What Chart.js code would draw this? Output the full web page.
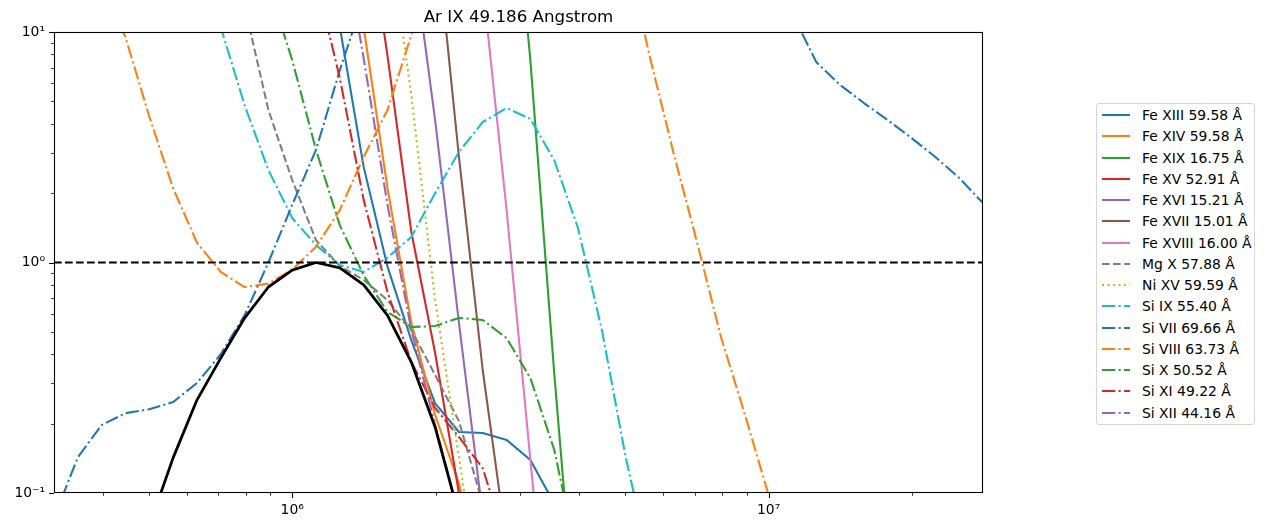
<!DOCTYPE html>
<html>
<head>
<meta charset="utf-8">
<script src="https://cdn.jsdelivr.net/npm/chart.js"></script>
<style>
  body { margin: 0; background: #fff; }
  #wrap { position: relative; width: 1264px; height: 532px; }
  #legend {
    position: absolute; left: 1096px; top: 103px; width: 157px; height: 319px;
    border: 1px solid #d6d6d6; border-radius: 3px; background: #fff;
    font-family: "DejaVu Sans", sans-serif; font-size: 13.9px; color: #000;
    padding-top: 0.5px; box-sizing: content-box;
  }
  .row { height: 21.26px; display: flex; align-items: center; white-space: nowrap; }
  .row svg { margin-left: 5px; margin-right: 12px; flex: none; }
</style>
</head>
<body>
<div id="wrap">
  <canvas id="graphe" width="1264" height="532"></canvas>
  <div id="legend"></div>
</div>
<script>
// temperature grid, log10(T)
var logT = [5.50, 5.55, 5.60, 5.65, 5.70, 5.75, 5.80, 5.85, 5.90, 5.95,
            6.00, 6.05, 6.10, 6.15, 6.20, 6.25, 6.30, 6.35, 6.40, 6.45,
            6.50, 6.55, 6.60, 6.65, 6.70, 6.75, 6.80, 6.85, 6.90, 6.95,
            7.00, 7.05, 7.10, 7.15, 7.20, 7.25, 7.30, 7.35, 7.40, 7.45];
var _ = null;

// ratios (null = not plotted / far off the axes)
var feXIII = [_,_,_,_,_,_,_,_,_,_,
              _, 30, 10.5, 2.6, 0.96, 0.46, 0.245, 0.184, 0.182, 0.17,
              0.139, 0.09, _,_,_,_,_,_,_,_,
              _,_,_,_,_,_,_,_,_,_];
var feXIV  = [_,_,_,_,_,_,_,_,_,_,
              _, _, 40, 10.5, 2.1, 0.55, 0.218, 0.11, 0.04, _,
              _,_,_,_,_,_,_,_,_,_,
              _,_,_,_,_,_,_,_,_,_];
var feXIX  = [_,_,_,_,_,_,_,_,_,_,
              _,_,_,_,_,_,_,_,_, 100,
              7.5, 0.331, 0.019, _,_,_,_,_,_,_,
              _,_,_,_,_,_,_,_,_,_];
var feXV   = [_,_,_,_,_,_,_,_,_,_,
              _, _, _, 40, 7.9, 1.36, 0.405, 0.1, 0.02, _,
              _,_,_,_,_,_,_,_,_,_,
              _,_,_,_,_,_,_,_,_,_];
var feXVI  = [_,_,_,_,_,_,_,_,_,_,
              _, _, _, _, _, 25, 4.15, 0.547, 0.08, _,
              _,_,_,_,_,_,_,_,_,_,
              _,_,_,_,_,_,_,_,_,_];
var feXVII = [_,_,_,_,_,_,_,_,_,_,
              _, _, _, _, _, _, 30, 2.87, 0.34, 0.06,
              _,_,_,_,_,_,_,_,_,_,
              _,_,_,_,_,_,_,_,_,_];
var feXVIII = [_,_,_,_,_,_,_,_,_,_,
              _,_,_,_,_,_,_,_, 16, 1.69,
              0.139, 0.012, _,_,_,_,_,_,_,_,
              _,_,_,_,_,_,_,_,_,_];
var mgX    = [_,_,_,_,_,_,_,_, 13, 4.59,
              2.28, 1.25, 0.966, 0.84, 0.687, 0.51, 0.325, 0.205, 0.09, _,
              _,_,_,_,_,_,_,_,_,_,
              _,_,_,_,_,_,_,_,_,_];
var niXV   = [_,_,_,_,_,_,_,_,_,_,
              _, _, _, _, 30, 5.33, 0.687, 0.143, 0.03, _,
              _,_,_,_,_,_,_,_,_,_,
              _,_,_,_,_,_,_,_,_,_];
var siIX   = [_,_,_,_,_,_, 25, 10.5, 4.82, 2.52,
              1.56, 1.19, 0.975, 0.91, 1.05, 1.29, 2.0, 3.02, 4.07, 4.68,
              4.2, 2.78, 1.41, 0.51, 0.143, 0.05, _,_,_,_,
              _,_,_,_,_,_,_,_,_,_];
var siVII  = [0.078, 0.143, 0.197, 0.222, 0.231, 0.248, 0.30, 0.40, 0.59, 1.0,
              1.78, 3.08, 6.84, 14, _,_,_,_,_,_,
              _,_,_,_,_,_,_,_,_,_,
              _, 12, 7.41, 5.89, 4.92, 4.15, 3.47, 2.87, 2.33, 1.81];
var siVIII = [_, _, 16, 9.5, 4.3, 2.1, 1.22, 0.91, 0.783, 0.81,
              0.93, 1.17, 1.69, 2.87, 4.59, 9.7, 20, _,_,_,
              _,_,_,_, 23, 7.9, 3.01, 1.22, 0.475, 0.22,
              0.098, 0.045, _,_,_,_,_,_,_,_];
var siX    = [_,_,_,_,_,_,_,_,_, 16,
              7.56, 3.08, 1.45, 0.88, 0.61, 0.525, 0.53, 0.575, 0.563, 0.47,
              0.315, 0.154, 0.05, _,_,_,_,_,_,_,
              _,_,_,_,_,_,_,_,_,_];
var siXI   = [_,_,_,_,_,_,_,_,_,_,
              _, 17, 6.3, 1.87, 0.745, 0.37, 0.234, 0.175, 0.128, 0.06,
              _,_,_,_,_,_,_,_,_,_,
              _,_,_,_,_,_,_,_,_,_];
var siXII  = [_,_,_,_,_,_,_,_,_,_,
              _, _, 30, 7.7, 1.78, 0.51, 0.197, 0.08, _, _,
              _,_,_,_,_,_,_,_,_,_,
              _,_,_,_,_,_,_,_,_,_];
// Ar IX itself (black, no legend entry)
var arIX   = [_,_,_,_, 0.072, 0.142, 0.253, 0.385, 0.574, 0.783,
              0.927, 1.0, 0.947, 0.80, 0.59, 0.37, 0.193, 0.08, _, _,
              _,_,_,_,_,_,_,_,_,_,
              _,_,_,_,_,_,_,_,_,_];
var unity = [1, 1];

var labels = ['Fe XIII 59.58 Å', 'Fe XIV 59.58 Å', 'Fe XIX 16.75 Å', 'Fe XV 52.91 Å',
              'Fe XVI 15.21 Å', 'Fe XVII 15.01 Å', 'Fe XVIII 16.00 Å', 'Mg X 57.88 Å',
              'Ni XV 59.59 Å', 'Si IX 55.40 Å', 'Si VII 69.66 Å', 'Si VIII 63.73 Å',
              'Si X 50.52 Å', 'Si XI 49.22 Å', 'Si XII 44.16 Å'];
var series = [feXIII, feXIV, feXIX, feXV, feXVI, feXVII, feXVIII, mgX,
              niXV, siIX, siVII, siVIII, siX, siXI, siXII];
var colors = ['#1f77b4', '#ff7f0e', '#2ca02c', '#d62728', '#9467bd', '#8c564b', '#e377c2',
              '#7f7f7f', '#bcbd22', '#17becf', '#1f77b4', '#ff7f0e', '#2ca02c', '#d62728', '#9467bd'];
var styles = ['-', '-', '-', '-', '-', '-', '-', '--', ':', '-.', '-.', '-.', '-.', '-.', '-.'];

var dashes = { '-': [], '--': [7.7, 3.3], ':': [2.1, 3.4], '-.': [13.3, 3.3, 2.1, 3.3] };
var LW = 2.08;

function toPoints(vals) {
    return logT.map(function(lt, i) { return { x: Math.pow(10, lt), y: vals[i] }; });
}

var sup = { '0': '⁰', '1': '¹', '2': '²', '3': '³', '4': '⁴', '5': '⁵', '6': '⁶', '7': '⁷', '8': '⁸', '9': '⁹', '-': '⁻' };
function powLabel(v) {
    var e = String(Math.round(Math.log10(v)));
    return '10' + e.split('').map(function(c) { return sup[c]; }).join('');
}

var datasets = series.map(function(vals, i) {
    return {
        label: labels[i],
        data: toPoints(vals),
        borderColor: colors[i],
        borderWidth: LW,
        borderDash: dashes[styles[i]],
        borderJoinStyle: 'round',
        pointRadius: 0,
        fill: false,
        tension: 0,
        clip: 0,
        order: -i
    };
});
datasets.push({
    label: 'Ar IX',
    data: toPoints(arIX),
    borderColor: '#000',
    borderWidth: 2.78,
    borderJoinStyle: 'round',
    pointRadius: 0,
    tension: 0,
    clip: 0,
    order: -100
});
datasets.push({
    label: 'ratio 1',
    data: [{ x: Math.pow(10, logT[0]), y: unity[0] }, { x: Math.pow(10, logT[logT.length - 1]), y: unity[1] }],
    borderColor: '#000',
    borderWidth: LW,
    borderDash: [7.7, 3.3],
    pointRadius: 0,
    clip: 0,
    order: -101
});

// axes frame + major/minor tick marks, matplotlib style
var axesFrame = {
    id: 'axesFrame',
    afterDraw: function(chart) {
        var ctx = chart.ctx, a = chart.chartArea, x = chart.scales.x, y = chart.scales.y;
        ctx.save();
        ctx.strokeStyle = '#000';
        for (var n = 5; n <= 7; n++) {
            for (var k = 1; k <= 9; k++) {
                var v = k * Math.pow(10, n);
                if (v < x.min || v > x.max) continue;
                var px = Math.round(x.getPixelForValue(v)) + 0.5;
                ctx.lineWidth = k == 1 ? 1.1 : 0.8;
                ctx.beginPath();
                ctx.moveTo(px, a.bottom);
                ctx.lineTo(px, a.bottom + (k == 1 ? 4.9 : 2.8));
                ctx.stroke();
            }
        }
        for (var n = -1; n <= 1; n++) {
            for (var k = 1; k <= 9; k++) {
                var v = k * Math.pow(10, n);
                if (v < y.min * 0.999 || v > y.max * 1.001) continue;
                var py = Math.round(y.getPixelForValue(v)) + 0.5;
                ctx.lineWidth = k == 1 ? 1.1 : 0.8;
                ctx.beginPath();
                ctx.moveTo(a.left, py);
                ctx.lineTo(a.left - (k == 1 ? 4.9 : 2.8), py);
                ctx.stroke();
            }
        }
        ctx.lineWidth = 1.1;
        ctx.strokeRect(Math.round(a.left) + 0.5, Math.round(a.top) + 0.5,
                       Math.round(a.right - a.left) - 1, Math.round(a.bottom - a.top) - 1);
        ctx.restore();
    }
};

var tickFont = { family: 'DejaVu Sans', size: 13.9 };

var myChart = new Chart(document.getElementById('graphe').getContext('2d'), {
    type: 'line',
    data: { datasets: datasets },
    options: {
        responsive: false,
        devicePixelRatio: 1,
        animation: false,
        events: [],
        layout: { padding: { left: 0, right: 281, top: 0, bottom: 0 } },
        plugins: {
            legend: { display: false },
            tooltip: { enabled: false },
            title: {
                display: true,
                text: 'Ar IX 49.186 Angstrom',
                fullSize: false,
                color: '#000',
                font: { family: 'DejaVu Sans', size: 16.7, weight: 'normal', lineHeight: 1.2 },
                padding: { top: 8, bottom: 4 }
            }
        },
        scales: {
            x: {
                type: 'logarithmic',
                min: Math.pow(10, logT[0]),
                max: Math.pow(10, logT[logT.length - 1]),
                afterBuildTicks: function(s) { s.ticks = [{ value: 1e6 }, { value: 1e7 }]; },
                afterFit: function(s) { s.height = 39; },
                ticks: { callback: powLabel, font: tickFont, color: '#000', padding: 9, autoSkip: false, maxRotation: 0 },
                grid: { display: false, drawTicks: false },
                border: { display: false }
            },
            y: {
                type: 'logarithmic',
                min: 0.1,
                max: 10,
                afterBuildTicks: function(s) { s.ticks = [{ value: 0.1 }, { value: 1 }, { value: 10 }]; },
                afterFit: function(s) { s.width = 54; },
                ticks: { callback: powLabel, font: tickFont, color: '#000', padding: 9, autoSkip: false },
                grid: { display: false, drawTicks: false },
                border: { display: false }
            }
        }
    },
    plugins: [axesFrame]
});

// legend, built from the datasets
var legend = document.getElementById('legend');
series.forEach(function(vals, i) {
    var row = document.createElement('div');
    row.className = 'row';
    var d = dashes[styles[i]].join(' ');
    row.innerHTML = '<svg width="28" height="6"><line x1="0" y1="3" x2="28" y2="3" stroke="' + colors[i] +
        '" stroke-width="' + LW + '"' + (d ? ' stroke-dasharray="' + d + '"' : '') + '/></svg><span>' + labels[i] + '</span>';
    legend.appendChild(row);
});
</script>
</body>
</html>
